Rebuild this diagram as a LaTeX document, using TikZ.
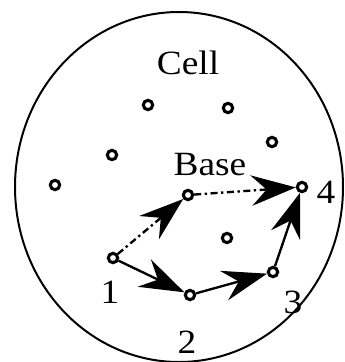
\documentclass[tikz,border=0pt]{standalone}
\usepackage{fontspec}
\setmainfont{Liberation Serif}
\usetikzlibrary{arrows.meta}

\begin{document}
\begin{tikzpicture}[x=0.03cm, y=-0.03cm]
    % Styles
    \tikzstyle{dot} = [circle, draw, fill=white, line width=2.6pt, minimum size=8pt, inner sep=0pt]
    \tikzstyle{lbl} = [inner sep=0pt, font=\fontsize{29}{33}\selectfont, xscale=1.1, transform shape]
    \tikzstyle{arrow} = [line width=2pt, -{Stealth[length=38pt, width=26pt, inset=13pt]}]
    \tikzstyle{hop} = [arrow, dash pattern=on 6pt off 3pt on 2pt off 3pt]

    \useasboundingbox (0,0) rectangle (345,362);

    % Cell
    \draw[line width=1.7pt] (179,187) ellipse [x radius=164, y radius=175];
    \node[lbl] (cell) at (188,63) {Cell};

    % Nodes
    \node[dot] (d1) at (148,105) {};
    \node[dot] (d2) at (228,108) {};
    \node[dot] (d3) at (272,142) {};
    \node[dot] (d4) at (112,155) {};
    \node[dot] (d5) at (55,185) {};
    \node[dot] (d6) at (227,238) {};
    \node[dot] (base) at (188,195) {};
    \node[dot] (n1) at (113,258) {};
    \node[dot] (n2) at (190,295) {};
    \node[dot] (n3) at (273,272) {};
    \node[dot] (n4) at (302,187) {};

    % Labels
    \node[lbl] (baselbl) at (210,165) {Base};
    \node[lbl] (l1) at (110,292) {1};
    \node[lbl] (l2) at (187,342) {2};
    \node[lbl] (l3) at (293,302) {3};
    \node[lbl] (l4) at (326,192) {4};

    % Arrows
    \draw [arrow] (n1) -- (n2);
    \draw [arrow] (n2) -- (n3);
    \draw [arrow] (n3) -- (n4);
    \draw [hop] (n1) -- (base);
    \draw [hop] (base) -- (n4);
\end{tikzpicture}
\end{document}
